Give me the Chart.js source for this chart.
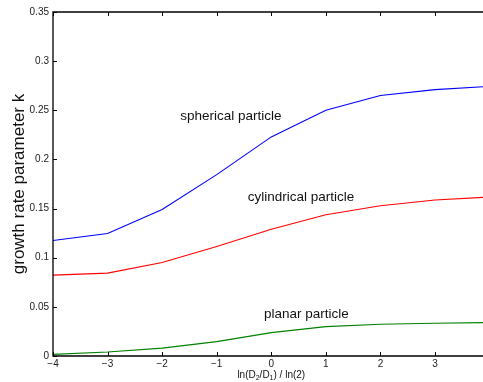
<!DOCTYPE html>
<html>
<head>
<meta charset="utf-8">
<script src="https://cdn.jsdelivr.net/npm/chart.js@4"></script>
<style>
  body { margin: 0; background: #fff; }
  canvas { display: block; }
</style>
</head>
<body>
<canvas id="chart" width="483" height="382"></canvas>
<script>
// x positions: ln(D2/D1)/ln(2)
const xValues = [-4, -3, -2, -1, 0, 1, 2, 3, 3.88];
const spherical = [0.1175, 0.1247, 0.149, 0.1845, 0.2229, 0.250, 0.265, 0.271, 0.274];
const cylindrical = [0.0823, 0.0843, 0.0951, 0.1114, 0.129, 0.1437, 0.1529, 0.1587, 0.1614];
const planar = [0.0017, 0.004, 0.008, 0.0146, 0.0238, 0.0299, 0.0323, 0.0333, 0.034];
const xTicks = [-4, -3, -2, -1, 0, 1, 2, 3];
const yTicks = [0, 0.05, 0.1, 0.15, 0.2, 0.25, 0.3, 0.35];
// curve labels placed in data coordinates
const curveLabels = [
    { text: 'spherical particle', x: -1.67, y: 0.2436 },
    { text: 'cylindrical particle', x: -0.43, y: 0.161 },
    { text: 'planar particle', x: -0.135, y: 0.0428 }
];

const font = '"Liberation Sans", Arial, sans-serif';

function toPoints(ys) {
    return xValues.map((x, i) => ({ x: x, y: ys[i] }));
}

// draw box, inward ticks, curve labels and the x title
const framePlugin = {
    id: 'frame',
    afterDraw(chart) {
        const ctx = chart.ctx;
        const area = chart.chartArea;
        const xs = chart.scales.x;
        const ys = chart.scales.y;
        ctx.save();
        ctx.strokeStyle = '#000';
        ctx.lineWidth = 1.3;
        ctx.beginPath();
        ctx.moveTo(area.right, area.top);
        ctx.lineTo(area.left, area.top);
        ctx.lineTo(area.left, area.bottom);
        ctx.lineTo(area.right, area.bottom);
        ctx.stroke();

        ctx.lineWidth = 1;
        ctx.beginPath();
        xTicks.forEach(v => {
            const px = Math.round(xs.getPixelForValue(v)) + 0.5;
            ctx.moveTo(px, area.bottom);
            ctx.lineTo(px, area.bottom - 4);
            ctx.moveTo(px, area.top);
            ctx.lineTo(px, area.top + 4);
        });
        yTicks.forEach(v => {
            const py = Math.round(ys.getPixelForValue(v)) + 0.5;
            ctx.moveTo(area.left, py);
            ctx.lineTo(area.left + 4, py);
        });
        ctx.stroke();

        ctx.fillStyle = '#111';
        ctx.font = '13.5px ' + font;
        ctx.textAlign = 'left';
        ctx.textBaseline = 'middle';
        curveLabels.forEach(l => {
            ctx.fillText(l.text, xs.getPixelForValue(l.x), ys.getPixelForValue(l.y));
        });

        // x axis title with subscripts
        const parts = [
            ['ln(D', 10, 0], ['2', 7, 3], ['/D', 10, 0], ['1', 7, 3], [') / ln(2)', 10, 0]
        ];
        let total = 0;
        parts.forEach(p => { ctx.font = p[1] + 'px ' + font; total += ctx.measureText(p[0]).width; });
        let cx = xs.getPixelForValue(0) - total / 2;
        const cy = 375;
        parts.forEach(p => {
            ctx.font = p[1] + 'px ' + font;
            ctx.fillText(p[0], cx, cy + p[2]);
            cx += ctx.measureText(p[0]).width;
        });
        ctx.restore();
    }
};

new Chart(document.getElementById('chart'), {
    type: 'line',
    data: {
        datasets: [
            { label: 'spherical', data: toPoints(spherical), borderColor: '#0000ff' },
            { label: 'cylindrical', data: toPoints(cylindrical), borderColor: '#ff0000' },
            { label: 'planar', data: toPoints(planar), borderColor: '#008000' }
        ]
    },
    options: {
        responsive: false,
        devicePixelRatio: 1,
        animation: false,
        layout: { padding: { top: 12, right: 0, left: 0, bottom: 0 } },
        elements: {
            line: { borderWidth: 1.1, tension: 0, fill: false },
            point: { radius: 0 }
        },
        plugins: {
            legend: { display: false },
            tooltip: { enabled: false }
        },
        scales: {
            x: {
                type: 'linear',
                min: -4,
                max: 3.88,
                grid: { display: false, drawTicks: false },
                border: { display: false },
                afterBuildTicks: s => { s.ticks = xTicks.map(v => ({ value: v })); },
                afterFit: s => { s.height = 26; },
                ticks: {
                    padding: 2,
                    color: '#222',
                    font: { family: font, size: 10 },
                    maxRotation: 0,
                    callback: v => (v < 0 ? '\u2212' + Math.abs(v) : String(v))
                }
            },
            y: {
                type: 'linear',
                min: 0,
                max: 0.35,
                grid: { display: false, drawTicks: false },
                border: { display: false },
                afterBuildTicks: s => { s.ticks = yTicks.map(v => ({ value: v })); },
                afterFit: s => { s.width = 53; },
                ticks: {
                    padding: 4,
                    color: '#222',
                    font: { family: font, size: 10 },
                    callback: v => String(parseFloat(v.toFixed(2)))
                },
                title: {
                    display: true,
                    text: 'growth rate parameter k',
                    color: '#111',
                    font: { family: font, size: 17 },
                    padding: { top: 9, bottom: 0 }
                }
            }
        }
    },
    plugins: [framePlugin]
});
</script>
</body>
</html>
